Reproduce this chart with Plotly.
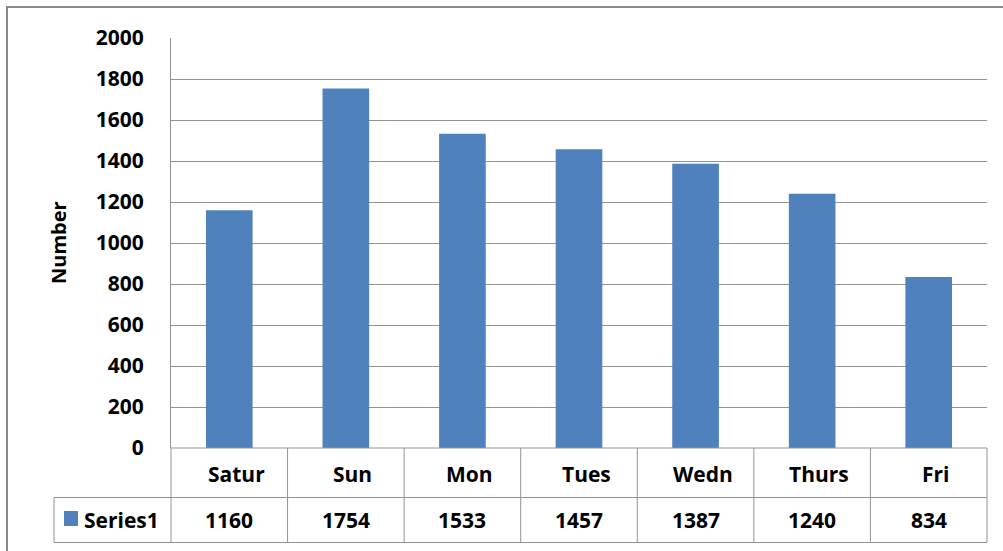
import plotly.graph_objects as go

categories = ["Satur", "Sun", "Mon", "Tues", "Wedn", "Thurs", "Fri"]
values = [1160, 1754, 1533, 1457, 1387, 1240, 834]
series_name = "Series1"
y_title = "Number"
y_ticks = [0, 200, 400, 600, 800, 1000, 1200, 1400, 1600, 1800, 2000]

BAR = "#4F81BD"
GRID = "#939393"
FONT = "Open Sans"

W, H = 1003, 551
L, R, T, B = 171, 16, 38, 103
PW, PH = W - L - R, H - T - B

def px(x):  # pixel x -> paper
    return (x - L) / PW

def py(y):  # pixel y -> paper
    return (H - B - y) / PH

fig = go.Figure()
fig.add_trace(go.Bar(x=categories, y=values, name=series_name,
                     marker=dict(color=BAR, line=dict(width=0)),
                     showlegend=False))

n = len(categories)
shapes = []
# outer chart border
shapes.append(dict(type="rect", xref="paper", yref="paper",
                   x0=px(7), x1=px(1012), y0=py(7), y1=py(570),
                   line=dict(color="#8a8a8a", width=2), layer="below"))
# table horizontal lines
row1, row2, row3 = 448, 497.5, 542.5
shapes.append(dict(type="line", xref="paper", yref="paper", x0=0, x1=1,
                   y0=py(row1), y1=py(row1), line=dict(color=GRID, width=1)))
for yy in (row2, row3):
    shapes.append(dict(type="line", xref="paper", yref="paper", x0=px(54), x1=1,
                       y0=py(yy), y1=py(yy), line=dict(color=GRID, width=1)))
# table vertical lines
shapes.append(dict(type="line", xref="paper", yref="paper", x0=px(54), x1=px(54),
                   y0=py(row2), y1=py(row3), line=dict(color=GRID, width=1)))
for k in range(n + 1):
    shapes.append(dict(type="line", xref="paper", yref="paper", x0=k / n, x1=k / n,
                       y0=py(row1), y1=py(row3), line=dict(color=GRID, width=1)))
# legend key square
shapes.append(dict(type="rect", xref="paper", yref="paper",
                   x0=px(64), x1=px(78), y0=py(511), y1=py(526),
                   fillcolor=BAR, line=dict(width=0)))

tf = dict(family=FONT, size=21, color="black", weight="bold")
annotations = []
for c, v in zip(categories, values):
    annotations.append(dict(x=c, xref="x", y=0, yref="paper", yanchor="middle",
                            yshift=-(474 - (H - B)), xshift=7, text=c, showarrow=False,
                            font=tf))
    annotations.append(dict(x=c, xref="x", y=0, yref="paper", yanchor="middle",
                            yshift=-(520 - (H - B)), text=str(v), showarrow=False,
                            font=tf))
annotations.append(dict(x=0, xref="paper", xshift=82 - L, xanchor="left",
                        y=0, yref="paper", yanchor="middle", yshift=-(520 - (H - B)),
                        text=series_name, showarrow=False, font=tf))
annotations.append(dict(x=0, xref="paper", xshift=58 - L, xanchor="center",
                        y=0.5, yref="paper", yanchor="middle", text=y_title,
                        textangle=-90, showarrow=False,
                        font=dict(family=FONT, size=20, color="black", weight="bold")))

fig.update_layout(
    width=W, height=H,
    margin=dict(l=L, r=R, t=T, b=B),
    paper_bgcolor="white", plot_bgcolor="white",
    bargap=0.6,
    showlegend=False,
    shapes=shapes,
    annotations=annotations,
    xaxis=dict(showticklabels=False, showgrid=False, zeroline=False, showline=False,
               ticks="", range=[-0.5, n - 0.5]),
    yaxis=dict(range=[0, 2000], tickvals=y_ticks, showgrid=True, gridcolor=GRID,
               gridwidth=1, zeroline=False, showline=True, linecolor=GRID, linewidth=1,
               ticks="", ticklabelstandoff=22, tickfont=tf),
)

fig.write_html("out.html", config={"displayModeBar": False},
               post_script="document.body.style.margin='0';document.body.style.overflow='hidden';")
